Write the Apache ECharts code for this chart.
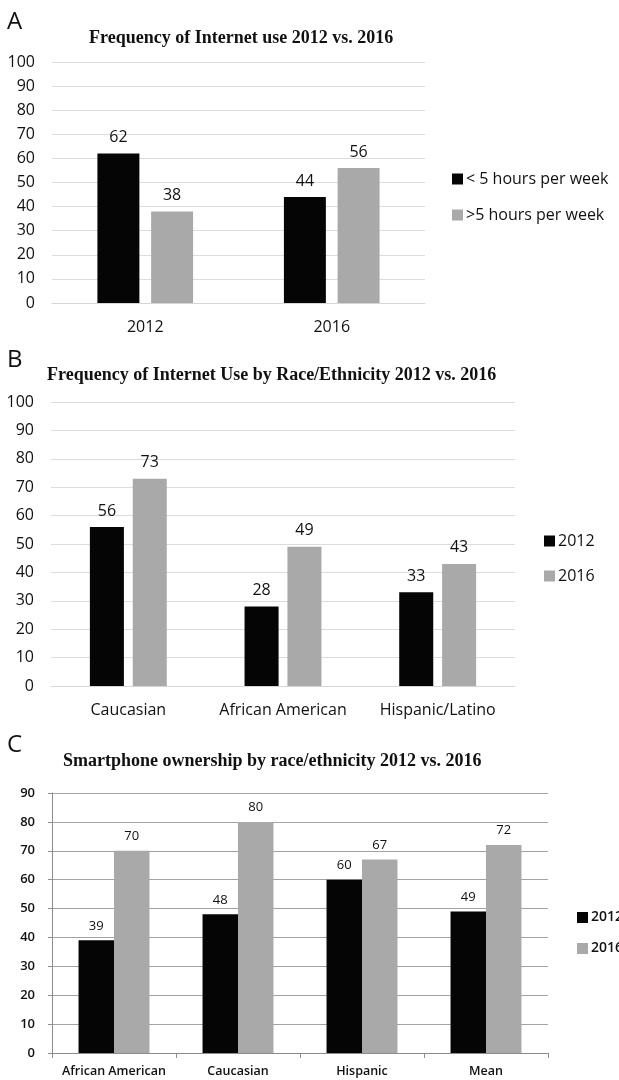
<!DOCTYPE html>
<html>
<head>
<meta charset="utf-8">
<style>
  html, body { margin: 0; padding: 0; background: #ffffff; }
  #chart { width: 619px; height: 1080px; }
</style>
<script src="https://cdn.jsdelivr.net/npm/echarts@6/dist/echarts.min.js"></script>
</head>
<body>
<div id="chart"></div>
<script>
// Panel A: frequency of Internet use
const yearsA = ['2012', '2016'];
const lessThan5 = [62, 44];
const moreThan5 = [38, 56];

// Panel B: frequency of Internet use by race/ethnicity
const groupsB = ['Caucasian', 'African American', 'Hispanic/Latino'];
const useB2012 = [56, 28, 33];
const useB2016 = [73, 49, 43];

// Panel C: smartphone ownership by race/ethnicity
const groupsC = ['African American', 'Caucasian', 'Hispanic', 'Mean'];
const phoneC2012 = [39, 48, 60, 49];
const phoneC2016 = [70, 80, 67, 72];

const BLACK = '#050505';
const GRAY = '#a9a9a9';
const TEXT = '#111111';
const SANS = '"Open Sans", "Liberation Sans", sans-serif';
const SERIF = '"Liberation Serif", "DejaVu Serif", serif';

const chart = echarts.init(document.getElementById('chart'), null, { renderer: 'canvas' });

function panelLetter(text, top) {
  return {
    text: text, left: 7, top: top, padding: 0,
    textStyle: { fontFamily: SANS, fontSize: 24, fontWeight: 'normal', color: '#111', lineHeight: 28 }
  };
}
function panelTitle(text, left, top) {
  return {
    text: text, left: left, top: top, padding: 0,
    textStyle: { fontFamily: SERIF, fontSize: 18, fontWeight: 'bold', color: '#111', lineHeight: 20 }
  };
}
function legendBlock(names, left, top, fontSize, gap, weight) {
  return {
    orient: 'vertical', left: left, top: top, padding: 0,
    itemWidth: 11, itemHeight: 11, itemGap: gap,
    icon: 'rect', selectedMode: false,
    data: names,
    textStyle: { fontFamily: SANS, fontSize: fontSize, fontWeight: weight, color: TEXT, lineHeight: 15, padding: [0, 0, 0, -2] }
  };
}
function valueLabel(size, dist) {
  return { show: true, position: 'top', distance: dist, fontFamily: SANS, fontSize: size, color: TEXT };
}
function catLabel(size, margin, weight) {
  return { interval: 0, margin: margin, fontFamily: SANS, fontSize: size, fontWeight: weight, color: TEXT };
}
function valLabel(size, weight) {
  return { margin: 17, fontFamily: SANS, fontSize: size, fontWeight: weight, color: TEXT };
}

const softSplit = { show: true, lineStyle: { color: '#dcdcdc', width: 1 } };

chart.setOption({
  animation: false,
  backgroundColor: '#ffffff',
  title: [
    panelLetter('A', 8),
    panelTitle('Frequency of Internet use 2012 vs. 2016', 89, 28),
    panelLetter('B', 346),
    panelTitle('Frequency of Internet Use by Race/Ethnicity 2012 vs. 2016', 47, 365),
    panelLetter('C', 731),
    panelTitle('Smartphone ownership by race/ethnicity 2012 vs. 2016', 63, 751)
  ],
  legend: [
    legendBlock(['< 5 hours per week', '>5 hours per week'], 452, 171, 16, 20, 'normal'),
    legendBlock(['2012', '2016'], 544, 533, 16, 19, 'normal'),
    legendBlock(['2012', '2016'], 577, 910, 14, 16, 600)
  ],
  grid: [
    { left: 52, top: 62, width: 373, height: 241 },
    { left: 51, top: 402, width: 464, height: 284 },
    { left: 52, top: 793, width: 496, height: 260 }
  ],
  xAxis: [
    {
      type: 'category', gridIndex: 0, data: yearsA,
      axisLine: { show: true, lineStyle: { color: '#d6d6d6' } },
      axisTick: { show: false },
      axisLabel: catLabel(16, 16, 'normal')
    },
    {
      type: 'category', gridIndex: 1, data: groupsB,
      axisLine: { show: true, lineStyle: { color: '#d6d6d6' } },
      axisTick: { show: false },
      axisLabel: catLabel(16, 16, 'normal')
    },
    {
      type: 'category', gridIndex: 2, data: groupsC,
      axisLine: { show: true, lineStyle: { color: '#8c8c8c' } },
      axisTick: { show: true, length: 5, lineStyle: { color: '#8c8c8c' } },
      axisLabel: catLabel(12.5, 12, 600)
    }
  ],
  yAxis: [
    {
      type: 'value', gridIndex: 0, min: 0, max: 100, interval: 10,
      axisLine: { show: false }, axisTick: { show: false },
      splitLine: softSplit,
      axisLabel: valLabel(16, 'normal')
    },
    {
      type: 'value', gridIndex: 1, min: 0, max: 100, interval: 10,
      axisLine: { show: false }, axisTick: { show: false },
      splitLine: softSplit,
      axisLabel: valLabel(16, 'normal')
    },
    {
      type: 'value', gridIndex: 2, min: 0, max: 90, interval: 10,
      axisLine: { show: true, lineStyle: { color: '#8c8c8c' } },
      axisTick: { show: true, length: 4, lineStyle: { color: '#8c8c8c' } },
      splitLine: { show: true, lineStyle: { color: '#a3a3a3', width: 1 } },
      axisLabel: valLabel(13, 600)
    }
  ],
  series: [
    {
      name: '< 5 hours per week', type: 'bar', xAxisIndex: 0, yAxisIndex: 0,
      data: lessThan5, barWidth: '22.5%', barGap: '28%',
      itemStyle: { color: BLACK }, label: valueLabel(16, 8)
    },
    {
      name: '>5 hours per week', type: 'bar', xAxisIndex: 0, yAxisIndex: 0,
      data: moreThan5, barWidth: '22.5%', barGap: '28%',
      itemStyle: { color: GRAY }, label: valueLabel(16, 8)
    },
    {
      name: '2012', type: 'bar', xAxisIndex: 1, yAxisIndex: 1,
      data: useB2012, barWidth: '22%', barGap: '26%',
      itemStyle: { color: BLACK }, label: valueLabel(16, 8)
    },
    {
      name: '2016', type: 'bar', xAxisIndex: 1, yAxisIndex: 1,
      data: useB2016, barWidth: '22%', barGap: '26%',
      itemStyle: { color: GRAY }, label: valueLabel(16, 8)
    },
    {
      name: '2012', type: 'bar', xAxisIndex: 2, yAxisIndex: 2,
      data: phoneC2012, barWidth: '28.6%', barGap: '0%',
      itemStyle: { color: BLACK }, label: valueLabel(13, 8)
    },
    {
      name: '2016', type: 'bar', xAxisIndex: 2, yAxisIndex: 2,
      data: phoneC2016, barWidth: '28.6%', barGap: '0%',
      itemStyle: { color: GRAY }, label: valueLabel(13, 8)
    }
  ]
});
</script>
</body>
</html>
